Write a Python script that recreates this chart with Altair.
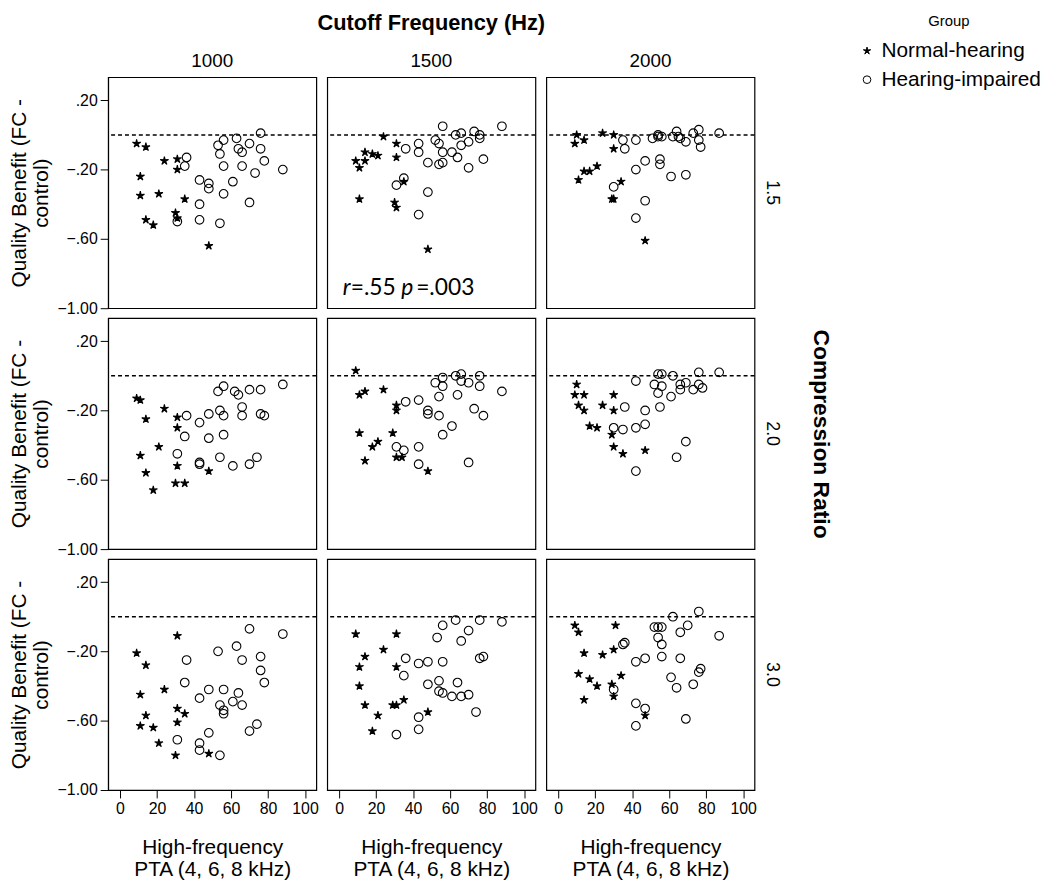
import math
import altair as alt
import pandas as pd

COLS = [1000, 1500, 2000]
ROWS = ["1.5", "2.0", "3.0"]
GROUPS = ["Normal-hearing", "Hearing-impaired"]

# (PTA, quality benefit) pairs per panel
NH_1000_15 = [(9,-0.05),(14,-0.07),(24,-0.15),(31,-0.14),(31,-0.20),(11,-0.24),(11,-0.35),(21,-0.34),(35,-0.37),(30,-0.45),(31,-0.48),(14,-0.49),(18,-0.52),(48,-0.64)]
HI_1000_15 = [(76,0.01),(63,-0.02),(56,-0.03),(53,-0.06),(70,-0.05),(64,-0.08),(66,-0.10),(76,-0.08),(54,-0.11),(36,-0.13),(35,-0.18),(78,-0.15),(56,-0.18),(66,-0.18),(88,-0.20),(73,-0.22),(43,-0.26),(48,-0.28),(48,-0.31),(61,-0.27),(56,-0.34),(70,-0.39),(43,-0.40),(43,-0.49),(31,-0.50),(54,-0.51)]

NH_1500_15 = [(24,-0.01),(31,-0.05),(9,-0.15),(11,-0.19),(14,-0.10),(18,-0.11),(21,-0.12),(14,-0.15),(31,-0.13),(11,-0.37),(35,-0.27),(30,-0.39),(31,-0.42),(48,-0.66)]
HI_1500_15 = [(56,0.05),(88,0.05),(63,0.00),(66,0.01),(73,0.02),(76,0.00),(76,-0.02),(52,-0.03),(54,-0.05),(70,-0.04),(66,-0.06),(43,-0.05),(36,-0.08),(43,-0.10),(56,-0.10),(61,-0.10),(64,-0.13),(48,-0.16),(54,-0.17),(56,-0.16),(78,-0.14),(70,-0.19),(35,-0.25),(31,-0.29),(48,-0.33),(43,-0.46)]

NH_2000_15 = [(10,0.00),(9,-0.05),(14,-0.03),(24,0.01),(30,0.00),(30,-0.08),(11,-0.26),(14,-0.21),(17,-0.21),(21,-0.18),(34,-0.27),(29,-0.37),(30,-0.37),(47,-0.61)]
HI_2000_15 = [(35,-0.03),(36,-0.08),(42,-0.03),(51,-0.02),(54,0.00),(54,-0.01),(56,-0.01),(62,-0.01),(64,0.02),(65,-0.01),(66,-0.02),(69,-0.04),(73,0.01),(76,0.03),(76,-0.03),(77,-0.07),(87,0.01),(47,-0.15),(55,-0.14),(55,-0.17),(42,-0.20),(61,-0.24),(69,-0.23),(30,-0.30),(47,-0.38),(42,-0.48)]

NH_1000_20 = [(9,-0.13),(11,-0.14),(24,-0.19),(14,-0.25),(31,-0.24),(31,-0.30),(21,-0.41),(11,-0.46),(31,-0.52),(14,-0.56),(48,-0.55),(30,-0.62),(35,-0.62),(18,-0.66)]
HI_1000_20 = [(88,-0.05),(56,-0.06),(53,-0.09),(62,-0.09),(64,-0.11),(70,-0.08),(76,-0.08),(66,-0.18),(54,-0.20),(56,-0.23),(66,-0.23),(76,-0.22),(78,-0.23),(36,-0.23),(48,-0.22),(43,-0.27),(35,-0.35),(48,-0.36),(56,-0.34),(31,-0.45),(43,-0.50),(43,-0.51),(54,-0.47),(61,-0.52),(70,-0.51),(74,-0.47)]

NH_1500_20 = [(9,0.03),(11,-0.11),(14,-0.09),(24,-0.08),(31,-0.17),(31,-0.20),(11,-0.33),(29,-0.33),(21,-0.38),(18,-0.41),(14,-0.49),(31,-0.47),(34,-0.47),(48,-0.55)]
HI_1500_20 = [(56,-0.01),(63,0.00),(66,0.01),(66,-0.03),(70,-0.04),(76,0.00),(52,-0.04),(56,-0.06),(76,-0.06),(88,-0.09),(64,-0.11),(54,-0.12),(36,-0.15),(43,-0.14),(48,-0.20),(48,-0.22),(54,-0.23),(73,-0.19),(78,-0.23),(61,-0.29),(56,-0.34),(31,-0.41),(35,-0.43),(43,-0.41),(43,-0.51),(70,-0.50)]

NH_2000_20 = [(10,-0.05),(9,-0.11),(14,-0.11),(11,-0.17),(14,-0.20),(30,-0.11),(24,-0.17),(30,-0.20),(17,-0.29),(21,-0.30),(29,-0.34),(30,-0.41),(35,-0.45),(47,-0.43)]
HI_2000_20 = [(42,-0.03),(54,0.01),(56,0.01),(62,0.00),(76,0.02),(87,0.02),(52,-0.05),(56,-0.06),(66,-0.05),(69,-0.04),(66,-0.08),(73,-0.08),(76,-0.05),(78,-0.07),(54,-0.10),(61,-0.12),(36,-0.18),(47,-0.20),(55,-0.18),(30,-0.30),(35,-0.31),(42,-0.30),(47,-0.28),(69,-0.38),(64,-0.47),(42,-0.55)]

NH_1000_30 = [(31,-0.11),(9,-0.21),(14,-0.28),(11,-0.45),(24,-0.42),(31,-0.53),(35,-0.56),(14,-0.57),(31,-0.61),(11,-0.63),(18,-0.64),(21,-0.73),(30,-0.80),(48,-0.79)]
HI_1000_30 = [(70,-0.07),(88,-0.10),(63,-0.17),(53,-0.20),(36,-0.25),(66,-0.25),(76,-0.23),(76,-0.31),(78,-0.38),(35,-0.38),(48,-0.42),(56,-0.42),(64,-0.44),(43,-0.47),(61,-0.49),(66,-0.51),(54,-0.51),(56,-0.54),(56,-0.56),(74,-0.62),(70,-0.66),(48,-0.67),(31,-0.71),(43,-0.73),(43,-0.77),(54,-0.80)]

NH_1500_30 = [(9,-0.10),(31,-0.10),(24,-0.19),(14,-0.23),(11,-0.29),(31,-0.29),(11,-0.40),(14,-0.51),(21,-0.57),(18,-0.66),(29,-0.51),(31,-0.51),(35,-0.48),(48,-0.55)]
HI_1500_30 = [(63,-0.02),(76,-0.02),(88,-0.03),(56,-0.05),(70,-0.08),(53,-0.12),(66,-0.14),(76,-0.24),(78,-0.23),(36,-0.24),(43,-0.27),(48,-0.26),(56,-0.26),(35,-0.34),(48,-0.39),(54,-0.37),(64,-0.38),(54,-0.43),(56,-0.44),(61,-0.46),(66,-0.46),(70,-0.45),(74,-0.55),(43,-0.58),(43,-0.65),(31,-0.68)]

NH_2000_30 = [(9,-0.05),(11,-0.09),(31,-0.05),(14,-0.21),(24,-0.22),(30,-0.19),(11,-0.33),(17,-0.36),(21,-0.40),(29,-0.39),(34,-0.34),(30,-0.46),(14,-0.48),(47,-0.57)]
HI_2000_30 = [(62,0.00),(76,0.03),(52,-0.06),(54,-0.06),(56,-0.06),(70,-0.05),(66,-0.09),(87,-0.11),(54,-0.12),(35,-0.16),(36,-0.15),(56,-0.16),(56,-0.23),(66,-0.24),(42,-0.26),(47,-0.24),(77,-0.30),(76,-0.32),(61,-0.35),(64,-0.41),(73,-0.39),(30,-0.42),(42,-0.50),(47,-0.53),(69,-0.59),(42,-0.63)]

PANELS = {
    (1000, "1.5"): (NH_1000_15, HI_1000_15),
    (1500, "1.5"): (NH_1500_15, HI_1500_15),
    (2000, "1.5"): (NH_2000_15, HI_2000_15),
    (1000, "2.0"): (NH_1000_20, HI_1000_20),
    (1500, "2.0"): (NH_1500_20, HI_1500_20),
    (2000, "2.0"): (NH_2000_20, HI_2000_20),
    (1000, "3.0"): (NH_1000_30, HI_1000_30),
    (1500, "3.0"): (NH_1500_30, HI_1500_30),
    (2000, "3.0"): (NH_2000_30, HI_2000_30),
}

records = []
for (cf, cr), (nh, hi) in PANELS.items():
    for x, y in nh:
        records.append({"cf": cf, "cr": cr, "group": GROUPS[0], "pta": x, "benefit": y})
    for x, y in hi:
        records.append({"cf": cf, "cr": cr, "group": GROUPS[1], "pta": x, "benefit": y})
df = pd.DataFrame(records)

# five-pointed thin star symbol
pts = []
for k in range(10):
    a = math.radians(-90 + 36 * k)
    r = 1.0 if k % 2 == 0 else 0.3
    pts.append(f"{r*math.cos(a):.3f},{r*math.sin(a):.3f}")
STAR = "M" + "L".join(pts) + "Z"

FONT = "Liberation Sans, Arial, sans-serif"
NOTE_FONT = "Lato, Open Sans, sans-serif"

base = alt.Chart(df)
legend = alt.Legend(title="Group")

points = base.mark_point(filled=False, strokeWidth=1.1, opacity=1, size=76).encode(
    x=alt.X("pta:Q",
            scale=alt.Scale(domain=[-6.4, 106.1], nice=False, zero=False),
            axis=alt.Axis(values=[0, 20, 40, 60, 80, 100],
                          title=["High-frequency", "PTA (4, 6, 8 kHz)"])),
    y=alt.Y("benefit:Q",
            scale=alt.Scale(domain=[-1.0, 0.333], nice=False, zero=False),
            axis=alt.Axis(values=[-1.0, -0.8, -0.6, -0.4, -0.2, 0.0, 0.2],
                          labelExpr="replace(format(datum.value, '.2f'), '0.', '.')",
                          title=["Quality Benefit (FC -", "control)"])),
    shape=alt.Shape("group:N", scale=alt.Scale(domain=GROUPS, range=[STAR, "circle"]), legend=legend),
    fill=alt.Fill("group:N", scale=alt.Scale(domain=GROUPS, range=["black", "transparent"]), legend=legend),
    stroke=alt.Stroke("group:N", scale=alt.Scale(domain=GROUPS, range=["black", "black"]), legend=legend),
)

rule = base.transform_aggregate(n="count()", groupby=["cf", "cr"]).mark_rule(
    color="black", strokeDash=[4, 3], strokeWidth=1.5
).encode(y=alt.datum(0))

note = base.transform_filter("datum.cf == 1500 && datum.cr == '1.5'").transform_aggregate(
    n="count()", groupby=["cf", "cr"])
common = dict(align="left", baseline="middle", font=NOTE_FONT, fontSize=23, color="black")
t1 = note.mark_text(text="r", fontStyle="italic", **common).encode(x=alt.datum(2.0), y=alt.datum(-0.885))
t2 = note.mark_text(text="=.55", dx=8, **common).encode(x=alt.datum(2.0), y=alt.datum(-0.885))
t3 = note.mark_text(text="p", dx=59, fontStyle="italic", **common).encode(x=alt.datum(2.0), y=alt.datum(-0.885))
t4 = note.mark_text(text="=.003", dx=74, **common).encode(x=alt.datum(2.0), y=alt.datum(-0.885))

chart = alt.layer(points, rule, t1, t2, t3, t4).properties(width=210, height=233).facet(
    column=alt.Column("cf:O", sort=COLS,
                      header=alt.Header(title="Cutoff Frequency (Hz)", titleFontSize=22,
                                        titleFontWeight="bold", titleFont=FONT, titlePadding=8,
                                        labelFontSize=19, labelFont=FONT, labelPadding=6)),
    row=alt.Row("cr:N", sort=ROWS,
                header=alt.Header(title="Compression Ratio", titleOrient="right", labelOrient="right",
                                  labelAngle=90, titleAngle=90, titleFontSize=23,
                                  titleFontWeight="bold", titleFont=FONT, labelFontSize=18,
                                  labelFont=FONT, labelPadding=9, titlePadding=18)),
    spacing={"row": 10, "column": 11},
).properties(
    padding=0, bounds="flush"
).configure_view(
    stroke="black", strokeWidth=1.2
).configure_axis(
    grid=False, domainColor="black", tickColor="black", labelColor="black", titleColor="black",
    labelFont=FONT, titleFont=FONT, labelFontSize=16, titleFontSize=21, titleFontWeight="normal",
    titleLineHeight=22, tickSize=8, labelPadding=3, labelOverlap=False
).configure_axisX(
    titlePadding=20
).configure_axisY(
    titlePadding=6
).configure_legend(
    orient="none", legendX=755, legendY=-64, titleFont=FONT, titleFontSize=15,
    titleFontWeight="normal", labelFont=FONT, labelFontSize=21, labelLimit=300,
    symbolStrokeColor="black", symbolStrokeWidth=1, symbolSize=60, titleAnchor="middle",
    rowPadding=7, titlePadding=12
).configure_header(
    labelColor="black", titleColor="black"
)

chart.save("out.html", embed_options={"renderer": "svg", "actions": False})
